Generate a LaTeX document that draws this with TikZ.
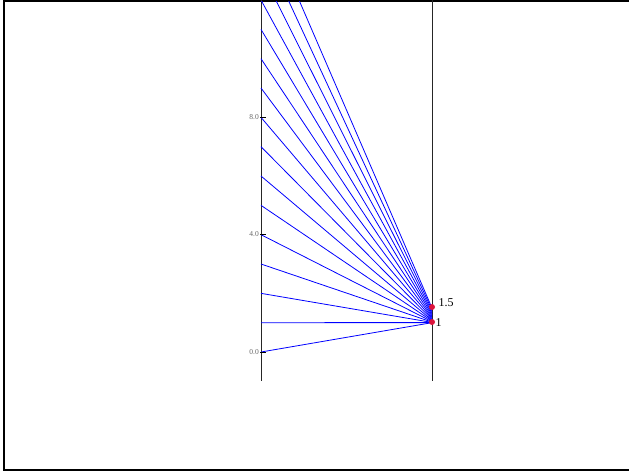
\documentclass[tikz,border=0pt]{standalone}
\usepackage{fontspec}
\setmainfont{Liberation Serif}
\begin{document}
\begin{tikzpicture}[x=1pt,y=-1pt,
  axisline/.style={draw=black!85,line width=0.9pt},
  fanline/.style={draw=blue,line width=0.8pt},
  tickmark/.style={draw=black,line width=0.9pt},
  ticklabel/.style={font=\fontsize{7.5}{7.5}\selectfont,text=black!60,anchor=east,inner sep=0pt},
  dot/.style={circle,fill={rgb,255:red,220;green,20;blue,60},inner sep=0pt,minimum size=6pt},
  vallabel/.style={font=\fontsize{12}{12}\selectfont,anchor=west,inner sep=0pt}]
\useasboundingbox (0,0) rectangle (629,471);
% frame
\draw[line width=2pt] (4,0) -- (4,469.5);
\draw[line width=2pt] (3,469.5) -- (629,469.5);
\draw[line width=1.2pt] (3,1) -- (629,1);
% axes
\coordinate (la0) at (261,0);
\coordinate (la1) at (261,381);
\coordinate (ra0) at (432,0);
\coordinate (ra1) at (432,381);
\draw[axisline] (la0) -- (la1);
\draw[axisline] (ra0) -- (ra1);
% fan lines
\begin{scope}
\clip (0,1.5) rectangle (629,471);
\foreach \k in {0,...,15} {
  \pgfmathsetmacro{\yl}{352-29.33*\k}
  \pgfmathsetmacro{\yr}{352-29.33*(1+0.5*(\k/15)^2)}
  \coordinate (s\k) at (261,\yl);
  \coordinate (e\k) at (432,\yr);
  \draw[fanline] (s\k) -- (e\k);
}
\end{scope}
% ticks
\foreach \v/\y in {0.0/352,4.0/234,8.0/117} {
  \coordinate (t\y) at (260,\y);
  \draw[tickmark] (t\y) -- ++(6,0);
  \node[ticklabel] at (259,\y) {\v};
}
% dots
\node[dot] (d1) at (432,322) {};
\node[dot] (d15) at (432,307) {};
\node[vallabel] (l1) at (435.5,323) {1};
\node[vallabel] (l15) at (438.5,302.5) {1.5};
\end{tikzpicture}
\end{document}
